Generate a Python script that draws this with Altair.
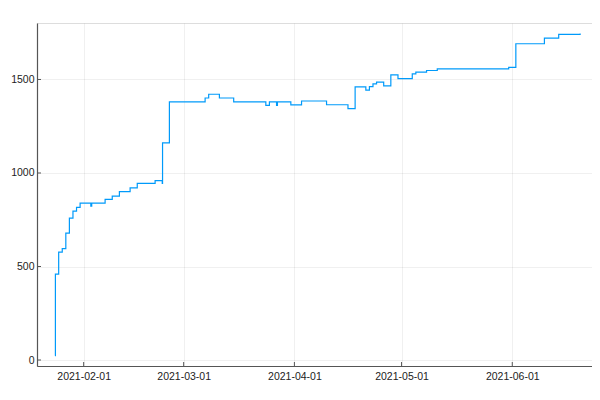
import altair as alt
import pandas as pd

# Data (step series)
dates = [
    "2021-01-24T00:00", "2021-01-24T02:00", "2021-01-25T00:00", "2021-01-26T00:00",
    "2021-01-27T00:00", "2021-01-28T00:00", "2021-01-29T00:00", "2021-01-30T00:00",
    "2021-01-31T00:00", "2021-02-03T00:00", "2021-02-03T06:00", "2021-02-07T00:00",
    "2021-02-09T00:00", "2021-02-11T00:00", "2021-02-14T00:00", "2021-02-16T00:00",
    "2021-02-21T00:00", "2021-02-23T00:00", "2021-02-23T02:00", "2021-02-25T00:00",
    "2021-03-07T00:00", "2021-03-08T00:00", "2021-03-11T00:00", "2021-03-15T00:00",
    "2021-03-24T00:00", "2021-03-25T00:00", "2021-03-27T00:00", "2021-03-27T06:00",
    "2021-03-31T00:00", "2021-04-03T00:00", "2021-04-10T00:00", "2021-04-16T00:00",
    "2021-04-18T00:00", "2021-04-21T00:00", "2021-04-22T00:00", "2021-04-23T00:00",
    "2021-04-24T00:00", "2021-04-26T00:00", "2021-04-28T00:00", "2021-04-30T00:00",
    "2021-05-04T00:00", "2021-05-05T00:00", "2021-05-08T00:00", "2021-05-11T00:00",
    "2021-05-31T00:00", "2021-06-02T00:00", "2021-06-10T00:00", "2021-06-14T00:00",
    "2021-06-20T00:00",
]
values = [
    23, 459, 577, 596,
    679, 759, 796, 816,
    839, 823, 839, 859,
    876, 900, 920, 944,
    959, 944, 1161, 1380,
    1401, 1421, 1401, 1380,
    1362, 1380, 1362, 1380,
    1364, 1385, 1365, 1344,
    1460, 1443, 1462, 1477,
    1486, 1466, 1525, 1505,
    1530, 1539, 1548, 1557,
    1565, 1691, 1721, 1741,
    1746,
]

x_tick_dates = ["2021-02-01T00:00", "2021-03-01T00:00", "2021-04-01T00:00",
                "2021-05-01T00:00", "2021-06-01T00:00"]
y_tick_values = [0, 500, 1000, 1500]

W, H = 555, 343

df = pd.DataFrame({"date": dates, "value": values})
xt = pd.DataFrame({"date": x_tick_dates})
yt = pd.DataFrame({"value": y_tick_values})

x_scale = alt.Scale(domain=[alt.DateTime(year=2021, month=1, date=18, hours=22, minutes=20),
                            alt.DateTime(year=2021, month=6, date=23, hours=7, minutes=45)])
y_scale = alt.Scale(domain=[-32, 1802], nice=False, zero=False)

x_axis = alt.Axis(
    title=None,
    values=[alt.DateTime(year=2021, month=m, date=1) for m in [2, 3, 4, 5, 6]],
    format="%Y-%m-%d", ticks=False, labelPadding=5, grid=True,
    gridColor="#000000", gridOpacity=0.06, gridWidth=1,
    domainColor="#555555", domainWidth=1.2, labelFlush=False,
    labelFont="Liberation Sans", labelFontSize=10.5, labelColor="#222222",
)
y_axis = alt.Axis(
    title=None, values=y_tick_values, format="d", ticks=False, labelPadding=3, grid=True,
    gridColor="#000000", gridOpacity=0.06, gridWidth=1,
    domainColor="#555555", domainWidth=1.2,
    labelFont="Liberation Sans", labelFontSize=10.5, labelColor="#222222",
)

line = alt.Chart(df).mark_line(interpolate="step-after", color="#009AFA", strokeWidth=1.2).encode(
    x=alt.X("date:T", scale=x_scale, axis=x_axis),
    y=alt.Y("value:Q", scale=y_scale, axis=y_axis),
)

xticks = alt.Chart(xt).mark_rule(color="#555555", strokeWidth=1).encode(
    x=alt.X("date:T", scale=x_scale, axis=x_axis),
    y=alt.value(H), y2=alt.value(H - 4),
)
yticks = alt.Chart(yt).mark_rule(color="#555555", strokeWidth=1).encode(
    y=alt.Y("value:Q", scale=y_scale, axis=y_axis),
    x=alt.value(0), x2=alt.value(4),
)

chart = alt.layer(line, xticks, yticks).properties(
    width=W, height=H,
    autosize=alt.AutoSizeParams(type="none"),
    padding={"left": 29, "top": 15, "right": 0, "bottom": 26},
).configure_view(stroke=None).configure(background="white")

chart.save("out.html", embed_options={"renderer": "svg", "actions": False})
